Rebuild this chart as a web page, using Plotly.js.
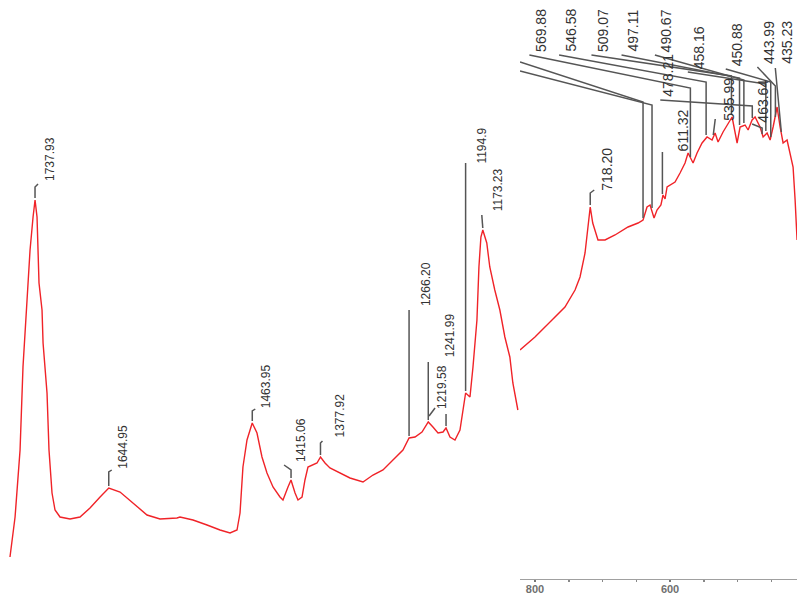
<!DOCTYPE html>
<html><head><meta charset="utf-8">
<script src="https://cdn.plot.ly/plotly-3.0.1.min.js"></script>
<style>html,body{margin:0;padding:0;background:#fff}</style>
</head><body><div id="chart" style="width:797px;height:598px"></div>
<script>
// ---- spectrum data (wavenumber cm-1, relative absorbance units) ----
const leftWn = [1769.5,1763.1,1756.8,1753.1,1748.0,1744.2,1740.4,1737.9,1735.4,1732.9,1729.1,1727.8,1722.8,1720.3,1716.5,1712.7,1706.4,1693.8,1681.2,1668.6,1655.9,1644.9,1630.7,1614.3,1596.7,1580.3,1558.9,1555.1,1538.7,1521.0,1504.6,1492.0,1483.2,1479.4,1475.7,1470.6,1464.0,1458.0,1451.7,1445.4,1437.8,1429.0,1425.2,1418.9,1415.1,1410.0,1406.3,1401.2,1397.5,1393.7,1387.4,1382.3,1377.9,1372.2,1366.0,1353.3,1340.7,1324.3,1311.7,1299.1,1286.5,1273.9,1266.2,1258.7,1249.9,1242.0,1236.1,1229.7,1223.4,1219.6,1214.6,1208.3,1202.0,1198.2,1194.9,1189.4,1185.6,1180.6,1178.1,1175.6,1173.2,1168.2,1164.4,1158.1,1151.7,1145.4,1139.1,1135.3,1130.3,1129.0];
const leftAbs = [22,62,129,212,279,329,362,379,362,296,269,236,186,129,86,69,62,60,62,71,82,91,87,76,64,60,61,62,59,54,49,46,49,66,112,139,156,146,122,106,92,82,79,92,99,86,79,82,99,112,114,116,122,116,111,106,101,97,104,109,119,129,141,142,147,157,152,146,147,151,142,139,149,169,186,182,212,259,312,342,349,336,312,289,269,242,222,196,172,169];

const rightWn = [822.2,800.0,774.8,755.6,740.7,733.3,725.9,722.5,719.8,718.2,714.5,706.7,696.3,681.5,662.2,647.4,640.0,634.1,629.6,623.7,619.3,613.5,610.4,607.4,604.4,592.6,585.2,577.8,573.3,565.9,560.0,552.6,545.2,537.8,533.3,528.9,521.5,514.1,508.1,500.7,496.3,488.9,484.4,478.5,474.1,466.7,462.2,456.3,451.8,447.4,441.5,437.0,432.6,426.7,422.2,417.8,414.8,411.9];
const rightAbs = [229,242,259,272,289,302,326,349,366,372,356,339,339,344,352,356,359,372,374,361,369,374,384,380,392,397,406,416,426,416,426,436,442,439,446,437,447,456,462,436,452,454,449,459,462,452,442,446,439,452,472,452,436,439,426,412,379,339];

// ---- peak labels ----
const leftPeakLabels = ['1737.93','1644.95','1463.95','1415.06','1377.92','1266.20','1241.99','1219.58','1194.9','1173.23'];
const leftPeakWn     = [1737.93,1644.95,1463.95,1415.06,1377.92,1266.20,1241.99,1219.58,1194.9,1173.23];
const leftPeakAbs    = [379,91,156,99,122,141,157,151,186,349];

const rightPeakLabels = ['718.20','611.32','569.88','546.58','535.99','509.07','497.11','490.67','478.21','463.64','458.16','450.88','443.99','435.23'];
const rightPeakWn     = [718.20,611.32,569.88,546.58,535.99,509.07,497.11,490.67,478.21,463.64,458.16,450.88,443.99,435.23];
const rightPeakAbs    = [372,382,420,442,440,462,452,454,459,443,446,440,460,445];

const hiddenPeakWn  = [640.0,626.7];
const hiddenPeakAbs = [359,369];

// ---- layout geometry (positions / styles) ----
const W = 797, H = 598, splitPx = 520, bottomPx = 19;
const leftRange = [1782.1, 1126.3], rightRange = [822.2, 412.0], yRange = [0, 579];
const uL = (leftRange[0] - leftRange[1]) / splitPx;
const uR = (rightRange[0] - rightRange[1]) / (W - splitPx);
const uY = (yRange[1] - yRange[0]) / (H - bottomPx);

// text offset [dx, dy] (px, label bottom-left relative to peak) and leader polyline (px offsets)
const leftStyle = [
  {t:[7,18],  p:[[0,2],[0,13],[3,16]]},
  {t:[6,18],  p:[[0,2],[0,16],[3,18]]},
  {t:[6,14],  p:[[0,2],[0,12],[3,14]]},
  {t:[2,17],  p:[[0,2],[0,10],[-7,15]]},
  {t:[12,19], p:[[0,2],[0,14],[2,16]]},
  {t:[9,131], p:[[0,2],[0,128]]},
  {t:[14,64], p:[[0,2],[0,60]]},
  {t:[-12,18],p:[[0,2],[0,14]], p2:[[-17,12],[-11,20]]},
  {t:[8,228], p:[[0,2],[0,230]]},
  {t:[7,18],  p:[[0,2],[-1,15]]}
];
const rightStyle = [
  {t:[7,15],    p:[[0,2],[0,14],[4,17]]},
  {t:[12,45],   p:[[0,3],[0,45]]},
  {t:[-159,106],p:[[0,2],[0,71],[-161,104]]},
  {t:[-145,84], p:[[0,2],[0,55],[-147,82]]},
  {t:[6,17],    p:[[0,4],[2,20]]},
  {t:[-138,64], p:[[0,2],[0,41],[-140,62]]},
  {t:[-116,74], p:[[0,2],[0,49],[-118,72]]},
  {t:[-87,72],  p:[[0,2],[0,45],[-89,70]]},
  {t:[-94,22],  p:[[0,2],[0,14],[-92,20]]},
  {t:[-9,12],   p:[[0,2],[0,8],[-10,12]]},
  {t:[-76,63],  p:[[0,2],[0,49],[-78,61]]},
  {t:[-43,72],  p:[[0,2],[0,57],[-45,70]]},
  {t:[-16,54],  p:[[0,2],[0,33],[-18,52]]},
  {t:[-4,69],   p:[[0,2],[-6,66]]}
];
const hiddenStyle = [
  {p:[[0,2],[0,118],[-123,158]]},
  {p:[[0,2],[0,105],[-132,139]]}
];

const lineColor = 'rgb(85,85,85)';
const labelFont = 'Liberation Sans, Arial, sans-serif';

function pathFor(wn, v, pts, ux) {
  return 'M' + pts.map(([dx, dy]) => (wn - dx * ux).toFixed(3) + ',' + (v + dy * uY).toFixed(3)).join(' L');
}

const shapes = [], annotations = [];
function addLabels(labels, wns, vals, styles, xref, ux, fsize) {
  wns.forEach((wn, i) => {
    const s = styles[i];
    let path = pathFor(wn, vals[i], s.p, ux);
    if (s.p2) path += ' ' + pathFor(wn, vals[i], s.p2, ux);
    shapes.push({type:'path', xref:xref, yref:'y', path:path, line:{color:lineColor, width:1.5}});
    if (labels) {
      annotations.push({
        x: wn, y: vals[i], xref: xref, yref: 'y', text: labels[i], showarrow: false,
        textangle: -90, xanchor: 'left', yanchor: 'bottom',
        xshift: s.t[0], yshift: s.t[1], borderpad: 0,
        font: {family: labelFont, size: fsize, color: '#333'}
      });
    }
  });
}
addLabels(leftPeakLabels, leftPeakWn, leftPeakAbs, leftStyle, 'x', uL, 12);
addLabels(rightPeakLabels, rightPeakWn, rightPeakAbs, rightStyle, 'x2', uR, 14);
addLabels(null, hiddenPeakWn, hiddenPeakAbs, hiddenStyle, 'x2', uR, 14);

const curveLine = {color: 'rgb(240,35,40)', width: 1.4};
const data = [
  {x: leftWn, y: leftAbs, xaxis: 'x', yaxis: 'y', mode: 'lines', line: curveLine, hoverinfo: 'x+y'},
  {x: rightWn, y: rightAbs, xaxis: 'x2', yaxis: 'y', mode: 'lines', line: curveLine, hoverinfo: 'x+y'}
];

const layout = {
  width: W, height: H,
  margin: {l: 0, r: 0, t: 0, b: bottomPx, pad: 0},
  paper_bgcolor: '#fff', plot_bgcolor: '#fff',
  showlegend: false,
  xaxis: {domain: [0, splitPx / W], range: leftRange, visible: false, anchor: 'y'},
  xaxis2: {
    domain: [splitPx / W, 1], range: rightRange, anchor: 'y',
    showline: true, linecolor: '#a0a0a0', linewidth: 1,
    showgrid: false, zeroline: false,
    ticks: 'outside', ticklen: 2, tickcolor: '#777', tickwidth: 1.5,
    tick0: 0, dtick: 200, ticklabelstandoff: -2,
    tickfont: {family: labelFont, size: 11, color: '#707070', weight: 'bold'},
    minor: {tick0: 0, dtick: 50, ticks: 'outside', ticklen: 2, tickcolor: '#888', tickwidth: 1.5, showgrid: false}
  },
  yaxis: {domain: [0, 1], range: yRange, visible: false},
  shapes: shapes,
  annotations: annotations
};

Plotly.newPlot('chart', data, layout, {staticPlot: true, displayModeBar: false});
</script>
</body></html>
